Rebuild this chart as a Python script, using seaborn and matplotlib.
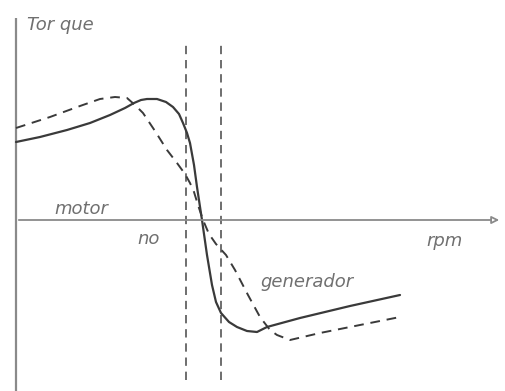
import matplotlib
matplotlib.use("Agg")
import matplotlib.pyplot as plt
import seaborn as sns
import pandas as pd

sns.set_theme(style="white")
plt.rcParams["font.family"] = ["DejaVu Sans"]

# Torque-speed characteristic of an asynchronous machine (arbitrary units)
speed_solid = [0, 24, 51, 74, 94, 109, 118, 125, 131, 141, 150, 157, 163, 167, 171, 174,
               178, 181, 186, 191, 196, 200, 205, 213, 221, 231, 241, 251, 284, 334, 384]
torque_solid = [78, 83, 90, 97, 105, 112, 117, 120, 121, 121, 118, 113, 106, 97, 87, 77,
                55, 33, 0, -35, -65, -82, -93, -102, -107, -111, -112, -107, -98, -86, -75]

speed_dashed = [0, 34, 64, 84, 99, 111, 119, 127, 139, 151, 161, 169, 174, 178, 182,
                187, 193, 200, 210, 219, 232, 244, 254, 261, 274, 304, 344, 384]
torque_dashed = [92, 103, 114, 121, 123, 122, 115, 107, 89, 70, 57, 46, 37, 28, 15,
                 0, -14, -24, -35, -50, -75, -97, -110, -115, -120, -113, -105, -97]

slip_lines = [170, 205]
labels = {"Tor que": (11, 195), "motor": (38, 11), "no": (121, -19),
          "rpm": (410, -21), "generador": (244, -62)}

fig = plt.figure(figsize=(5.05, 3.91), dpi=100)
ax = fig.add_axes([0, 0, 1, 1])

ink = "#3a3a3a"
axis_col = "#8a8a8a"

# axes of the diagram
ax.plot([0, 0], [-171, 202], color=axis_col, lw=1.6, solid_capstyle="butt")
ax.annotate("", xy=(486, 0), xytext=(0, 0),
            arrowprops=dict(arrowstyle="-|>", color=axis_col, lw=1.3,
                            mutation_scale=11, fc="white"))

# vertical dashed guide lines
for x0, top in zip(slip_lines, [180, 175]):
    ax.plot([x0, x0], [-160, top], color="#555555", lw=1.2, dashes=(5, 3.5))

df_s = pd.DataFrame({"speed": speed_solid, "torque": torque_solid})
df_d = pd.DataFrame({"speed": speed_dashed, "torque": torque_dashed})
sns.lineplot(data=df_s, x="speed", y="torque", sort=False, ax=ax,
             color=ink, lw=1.6)
sns.lineplot(data=df_d, x="speed", y="torque", sort=False, ax=ax,
             color=ink, lw=1.4)
ax.lines[-1].set_dashes((5, 3.5))
ax.set_xlim(-16, 489)
ax.set_ylim(-171, 220)
ax.axis("off")

for txt, (x, y) in labels.items():
    ax.text(x, y, txt, fontsize=13, style="italic", color="#707070",
            va="center", ha="left")

fig.savefig("out.png", dpi=100)
